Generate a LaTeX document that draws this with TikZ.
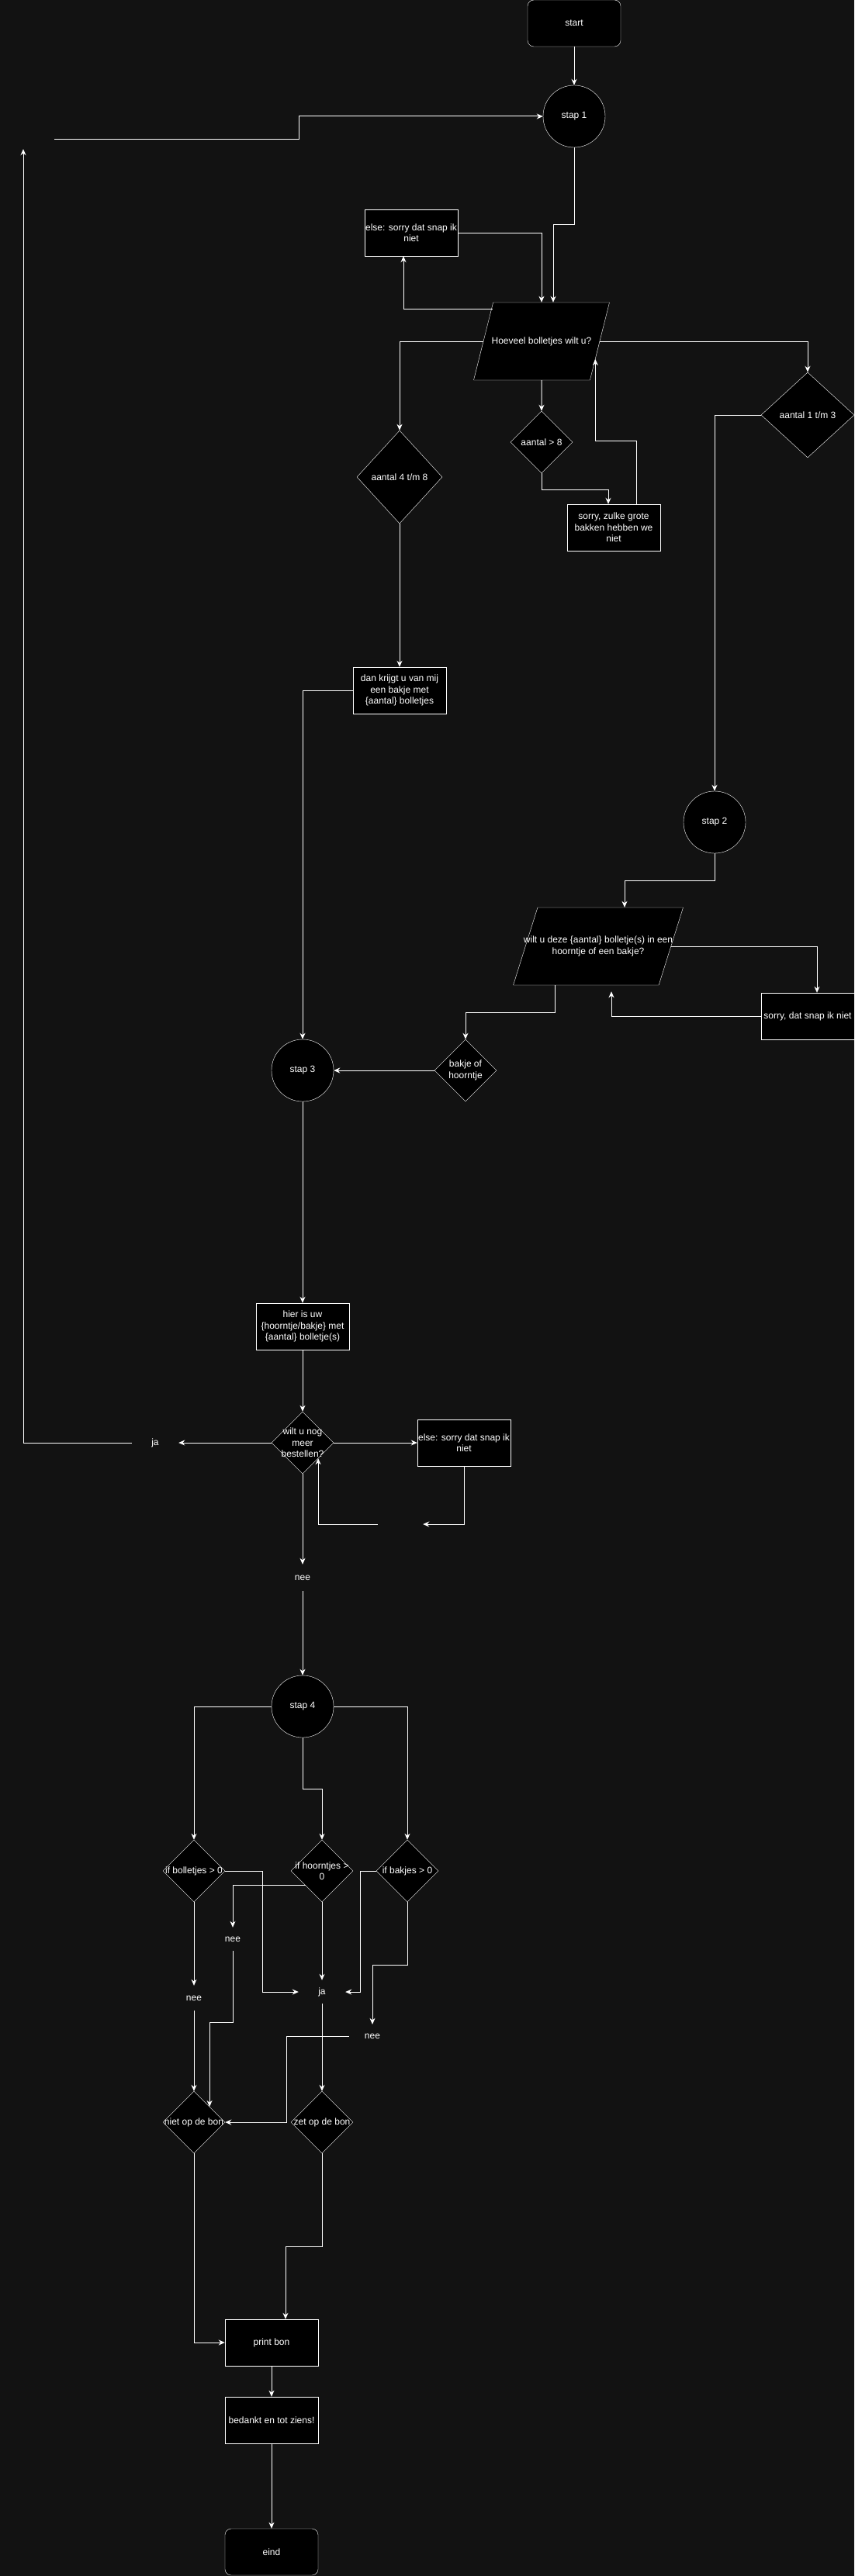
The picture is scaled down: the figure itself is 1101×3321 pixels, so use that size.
\documentclass[tikz,border=0pt]{standalone}
\usepackage{fontspec}
\setmainfont{Liberation Sans}
\usetikzlibrary{shapes.geometric, arrows.meta, positioning, calc}
\definecolor{achtergrond}{HTML}{121212}
\tikzstyle{proces} = [rectangle, minimum width=120pt, minimum height=60pt, inner sep=1pt, align=center, draw=white, fill=black, text=white]
\tikzstyle{eindpunt} = [proces, rounded corners=8pt]
\tikzstyle{stap} = [circle, minimum size=80pt, inner sep=0pt, draw=white, fill=black, text=white]
\tikzstyle{keuze} = [diamond, minimum width=80pt, minimum height=80pt, inner sep=1pt, draw=white, fill=black]
\tikzstyle{invoer} = [trapezium, trapezium left angle=79, trapezium right angle=101, trapezium stretches=true, minimum width=175pt, minimum height=100pt, inner sep=2pt, draw=white, fill=black]
\tikzstyle{tekst} = [text=white, align=center, inner sep=0pt]
\tikzstyle{los} = [minimum width=60pt, minimum height=30pt, inner sep=0pt, text=white]
\tikzstyle{arrow} = [line width=1pt, draw=white, ->, >={Stealth[length=8pt,width=7pt]}]

\begin{document}
\begin{tikzpicture}[x=1pt, y=-1pt, font=\fontsize{12pt}{14.4pt}\selectfont]
\fill [achtergrond] (0,0) rectangle (1101,3321);
\useasboundingbox (0,0) rectangle (1101,3321);

\node (start) [eindpunt] at (740,30) {start};
\node (stapeen) [stap] at (740,150) {stap 1};
\node (loop) [los, minimum width=80pt, minimum height=24pt] at (30,180) {};
\node (elseeen) [proces] at (530,300) {else: sorry dat snap ik\\niet};
\node (hoeveel) [invoer] at (698,440) {\phantom{x}};
\node (hoeveeltekst) [tekst] at (hoeveel.center) {Hoeveel bolletjes wilt u?};
\node (vieracht) [keuze, minimum width=110pt, minimum height=120pt, label={[tekst]center:aantal 4 t/m 8}] at (515,615) {};
\node (groot) [keuze, label={[tekst]center:aantal > 8}] at (698,570) {};
\node (eendrie) [keuze, minimum width=120pt, minimum height=110pt, label={[tekst]center:aantal 1 t/m 3}] at (1041,535) {};
\node (sorrygroot) [proces] at (791,680) {sorry, zulke grote\\bakken hebben we\\niet};
\node (dankrijgt) [proces] at (515,890) {dan krijgt u van mij\\een bakje met\\\{aantal\} bolletjes};
\node (staptwee) [stap] at (921,1060) {stap 2};
\node (wiltdeze) [invoer, minimum width=219pt] at (771,1220) {\phantom{x}};
\node (wiltdezetekst) [tekst] at (wiltdeze.center) {wilt u deze \{aantal\} bolletje(s) in een\\hoorntje of een bakje?};
\node (sorrysnap) [proces] at (1041,1310) {sorry, dat snap ik niet};
\node (bakjeof) [keuze, label={[tekst]center:bakje of\\hoorntje}] at (600,1380) {};
\node (stapdrie) [stap] at (390,1380) {stap 3};
\node (hierisuw) [proces] at (390,1710) {hier is uw\\\{hoorntje/bakje\} met\\\{aantal\} bolletje(s)};
\node (wiltnog) [keuze, label={[tekst]center:wilt u nog\\meer\\bestellen?}] at (390,1860) {};
\node (janode) [los] at (200,1860) {ja};
\node (elsetwee) [proces] at (598,1860) {else: sorry dat snap ik\\niet};
\node (leeg) [los, minimum width=58pt, minimum height=20pt] at (516,1965) {};
\node (neeeen) [los, minimum height=34pt] at (390,2034) {nee};
\node (stapvier) [stap] at (390,2200) {stap 4};
\node (bolletjes) [keuze, label={[tekst]center:if bolletjes > 0}] at (250,2412) {};
\node (hoorntjes) [keuze, label={[tekst]center:if hoorntjes >\\0}] at (415,2412) {};
\node (bakjes) [keuze, label={[tekst]center:if bakjes > 0}] at (525,2412) {};
\node (neehoorn) [los] at (300,2500) {nee};
\node (jamid) [los] at (415,2568) {ja};
\node (neebol) [los, minimum height=32pt] at (250,2576) {nee};
\node (neebak) [los] at (480,2625) {nee};
\node (niet) [keuze, label={[tekst]center:niet op de bon}] at (250,2736) {};
\node (zet) [keuze, label={[tekst]center:zet op de bon}] at (415,2736) {};
\node (printbon) [proces] at (350,3020) {print bon};
\node (bedankt) [proces, below of=printbon, node distance=100pt] {bedankt en tot ziens!};
\node (eind) [eindpunt, below of=bedankt, node distance=170pt] {eind};

\draw [arrow] (start) -- (stapeen);
\draw [arrow] (stapeen.south) -- ++(0,99) -| ([xshift=15pt]hoeveel.north);
\draw [arrow] (elseeen.east) -| (hoeveel.north);
\draw [arrow] ([yshift=-9pt]hoeveel.top left corner) -| ([xshift=-10pt]elseeen.south);
\draw [arrow] (hoeveel.west) -| (vieracht.north);
\draw [arrow] (hoeveel.south) -- (groot.north);
\draw [arrow] (hoeveel.east) -| (eendrie.north);
\draw [arrow] (groot.south) -- ++(0,21) -| ([xshift=-7pt]sorrygroot.north);
\draw [arrow] ([xshift=29pt]sorrygroot.north) -- ++(0,-81) -| ($(hoeveel.bottom right corner)!0.27!(hoeveel.top right corner)$);
\draw [arrow] (vieracht) -- (dankrijgt);
\draw [arrow] (dankrijgt.west) -| (stapdrie.north);
\draw [arrow] (eendrie.west) -| (staptwee.north);
\draw [arrow] (staptwee.south) -- ++(0,35) -| ([xshift=34pt]wiltdeze.north);
\draw [arrow] (wiltdeze.east) -| ([xshift=12pt]sorrysnap.north);
\draw [arrow] (sorrysnap.west) -| ([xshift=17pt,yshift=-8pt]wiltdeze.south);
\draw [arrow] ([xshift=-56pt]wiltdeze.south) -- ++(0,35) -| (bakjeof.north);
\draw [arrow] (bakjeof.west) -- (stapdrie.east);
\draw [arrow] (stapdrie) -- (hierisuw);
\draw [arrow] (hierisuw) -- (wiltnog);
\draw [arrow] (wiltnog.west) -- (janode.east);
\draw [arrow] (janode.west) -| (loop.south);
\draw [arrow] (loop.east) -- ++(315,0) |- (stapeen.west);
\draw [arrow] (wiltnog.east) -- (elsetwee.west);
\draw [arrow] (elsetwee.south) |- (leeg.east);
\draw [arrow] (leeg.west) -| ($(wiltnog.east)!0.5!(wiltnog.south)$);
\draw [arrow] (wiltnog.south) -- (neeeen.north);
\draw [arrow] (neeeen.south) -- (stapvier.north);
\draw [arrow] (stapvier.west) -| (bolletjes.north);
\draw [arrow] (stapvier.south) -- ++(0,66) -| (hoorntjes.north);
\draw [arrow] (stapvier.east) -| (bakjes.north);
\draw [arrow] (bolletjes.south) -- (neebol.north);
\draw [arrow] (neebol.south) -- (niet.north);
\draw [arrow] (bolletjes.east) -- ++(48,0) |- (jamid.west);
\draw [arrow] ($(hoorntjes.west)!0.47!(hoorntjes.south)$) -| (neehoorn.north);
\draw [arrow] (neehoorn.south) -- ++(0,92) -| ($(niet.north)!0.5!(niet.east)$);
\draw [arrow] (hoorntjes.south) -- (jamid.north);
\draw [arrow] (bakjes.west) -- ++(-20,0) |- (jamid.east);
\draw [arrow] (bakjes.south) -- ++(0,81) -| (neebak.north);
\draw [arrow] (neebak.west) -- ++(-80,0) |- (niet.east);
\draw [arrow] (jamid.south) -- (zet.north);
\draw [arrow] (niet.south) |- (printbon.west);
\draw [arrow] (zet.south) -- ++(0,120) -| ([xshift=18pt]printbon.north);
\draw [arrow] (printbon) -- (bedankt);
\draw [arrow] (bedankt) -- (eind);

\end{tikzpicture}
\end{document}
